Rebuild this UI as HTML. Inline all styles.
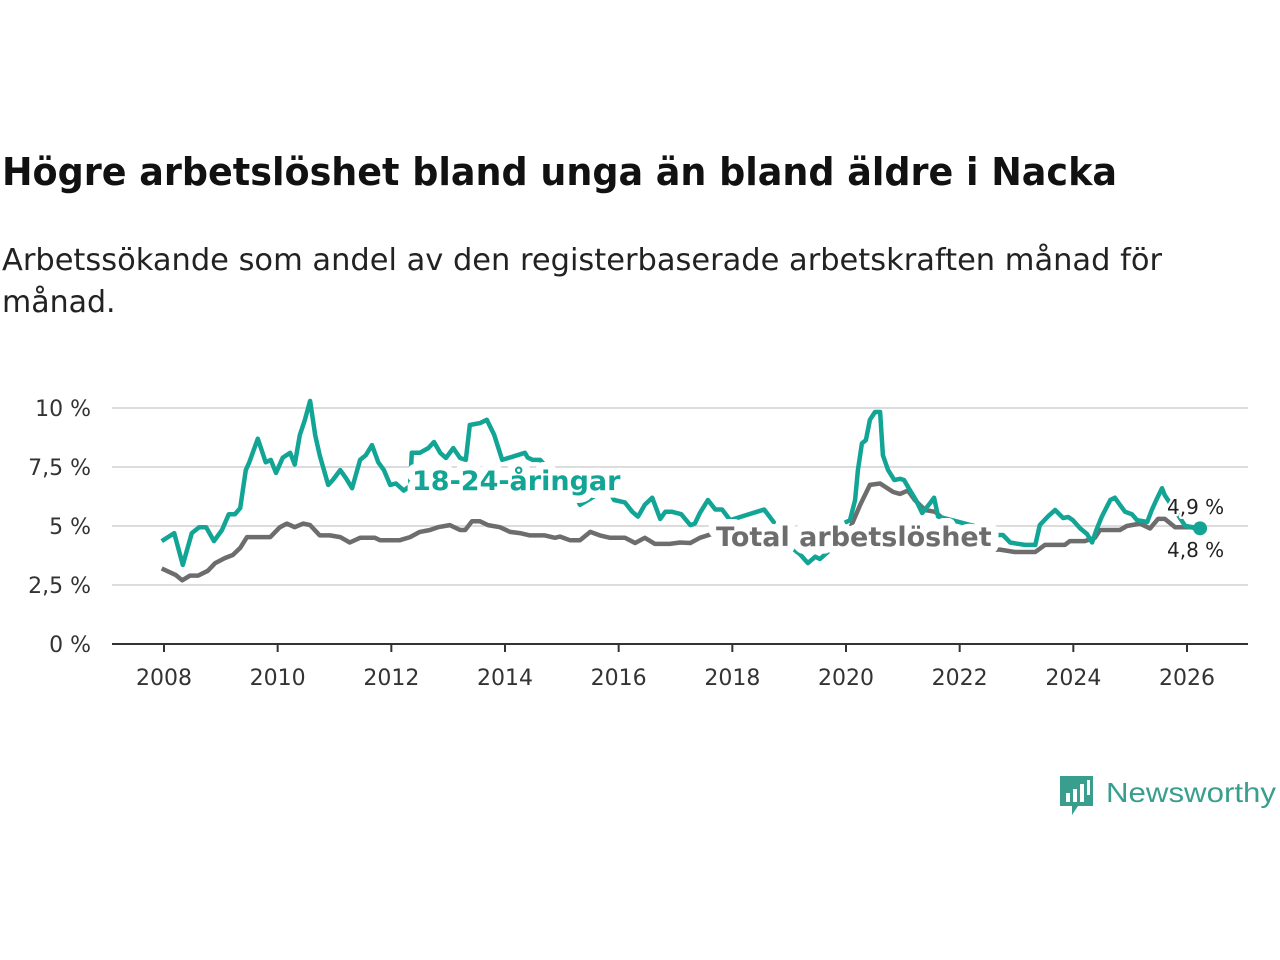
<!DOCTYPE html>
<html><head><meta charset="utf-8"><style>
body{margin:0;background:#fff;}
svg{display:block;font-family:"DejaVu Sans","Liberation Sans",sans-serif;}
</style></head><body>
<svg id="chart" width="1280" height="960" viewBox="0 0 1280 960">
<text x="2" y="185" font-size="38" font-weight="bold" fill="#111" textLength="1115" lengthAdjust="spacingAndGlyphs">Högre arbetslöshet bland unga än bland äldre i Nacka</text>
<text x="2" y="270" font-size="30" fill="#222" textLength="1160" lengthAdjust="spacingAndGlyphs">Arbetssökande som andel av den registerbaserade arbetskraften månad för</text>
<text x="2" y="312" font-size="30" fill="#222">månad.</text>
<g id="grid"></g><g id="axes"></g><g id="lines"></g><g id="labels"></g>
<g>
<path d="M1060 776h33v30h-15l-6 9v-9h-12z" fill="#3a9e8f"/>
<rect x="1066" y="793" width="4" height="9" fill="#fff"/><rect x="1073" y="789" width="4" height="13" fill="#fff"/><rect x="1080" y="784" width="4" height="18" fill="#fff"/><rect x="1087" y="780" width="3" height="15" fill="#fff"/>
<text x="1106" y="802" font-size="28" fill="#3a9e8f" font-family="Liberation Sans, sans-serif" textLength="170" lengthAdjust="spacingAndGlyphs">Newsworthy</text>
</g>
</svg>
<script>
const yTicks=[0,2.5,5,7.5,10];
const yTickLabels=["0 %","2,5 %","5 %","7,5 %","10 %"];
const xTicks=[2008,2010,2012,2014,2016,2018,2020,2022,2024,2026];
const youthDates=[2007.96,2008.18,2008.33,2008.49,2008.62,2008.74,2008.88,2009.02,2009.14,2009.25,2009.34,2009.44,2009.5,2009.65,2009.79,2009.88,2009.97,2010.09,2010.22,2010.3,2010.39,2010.48,2010.57,2010.66,2010.74,2010.89,2010.97,2011.1,2011.2,2011.31,2011.45,2011.55,2011.66,2011.77,2011.87,2011.98,2012.08,2012.22,2012.33,2012.36,2012.5,2012.65,2012.75,2012.86,2012.96,2013.09,2013.21,2013.31,2013.38,2013.56,2013.68,2013.81,2013.95,2014.35,2014.4,2014.49,2014.62,2014.7,2015.28,2015.32,2015.81,2015.92,2016.11,2016.24,2016.34,2016.46,2016.59,2016.73,2016.82,2016.94,2017.1,2017.26,2017.34,2017.43,2017.57,2017.7,2017.82,2017.96,2018.56,2019.1,2019.19,2019.33,2019.46,2019.54,2019.68,2019.9,2020.07,2020.16,2020.21,2020.28,2020.35,2020.42,2020.51,2020.6,2020.65,2020.74,2020.85,2020.95,2021.02,2021.13,2021.23,2021.34,2021.48,2021.55,2021.62,2022.53,2022.66,2022.76,2022.89,2023.01,2023.15,2023.33,2023.41,2023.55,2023.68,2023.82,2023.91,2023.99,2024.12,2024.24,2024.33,2024.4,2024.5,2024.65,2024.73,2024.82,2024.91,2025.03,2025.12,2025.3,2025.38,2025.46,2025.56,2025.61,2025.97,2026.23];
const youthValues=[4.36,4.7,3.35,4.7,4.95,4.95,4.36,4.83,5.5,5.5,5.76,7.37,7.7,8.7,7.7,7.8,7.25,7.9,8.1,7.6,8.85,9.5,10.3,8.85,8.0,6.74,6.95,7.37,7.03,6.6,7.8,8.0,8.43,7.7,7.37,6.74,6.8,6.5,6.7,8.1,8.1,8.3,8.56,8.1,7.88,8.3,7.88,7.8,9.28,9.36,9.5,8.86,7.8,8.1,7.9,7.8,7.8,7.58,6.1,5.9,6.6,6.1,6.0,5.6,5.4,5.9,6.2,5.3,5.6,5.6,5.5,5.04,5.1,5.55,6.1,5.7,5.7,5.25,5.7,3.98,3.8,3.43,3.7,3.6,3.9,5.04,5.25,6.1,7.37,8.5,8.64,9.5,9.83,9.83,8.0,7.37,6.95,7.0,6.95,6.5,6.1,5.55,5.97,6.2,5.4,4.83,4.62,4.62,4.3,4.25,4.2,4.2,5.04,5.4,5.68,5.34,5.38,5.25,4.9,4.66,4.3,4.8,5.4,6.1,6.2,5.9,5.6,5.5,5.25,5.17,5.68,6.1,6.6,6.3,5.0,4.9];
const totalDates=[2007.96,2008.21,2008.32,2008.46,2008.6,2008.77,2008.9,2009.07,2009.21,2009.34,2009.46,2009.69,2009.87,2010.04,2010.16,2010.3,2010.45,2010.57,2010.74,2010.92,2011.1,2011.27,2011.45,2011.71,2011.8,2011.98,2012.15,2012.33,2012.5,2012.68,2012.82,2013.03,2013.21,2013.3,2013.42,2013.56,2013.7,2013.91,2014.09,2014.26,2014.44,2014.7,2014.88,2014.97,2015.14,2015.32,2015.5,2015.67,2015.85,2016.11,2016.29,2016.46,2016.64,2016.9,2017.08,2017.26,2017.43,2017.64,2018.3,2019.0,2019.6,2020.02,2020.25,2020.42,2020.6,2020.83,2020.95,2021.09,2021.21,2021.39,2021.57,2022.31,2022.53,2022.71,2022.97,2023.33,2023.5,2023.73,2023.85,2023.94,2024.2,2024.38,2024.47,2024.82,2024.94,2025.17,2025.35,2025.49,2025.61,2025.79,2026.06,2026.23];
const totalValues=[3.2,2.92,2.7,2.9,2.9,3.1,3.43,3.64,3.77,4.07,4.53,4.53,4.53,4.95,5.1,4.95,5.1,5.04,4.6,4.6,4.53,4.3,4.5,4.5,4.4,4.4,4.4,4.53,4.75,4.83,4.95,5.04,4.83,4.83,5.2,5.2,5.04,4.95,4.75,4.7,4.6,4.6,4.5,4.55,4.4,4.4,4.75,4.6,4.5,4.5,4.28,4.5,4.24,4.24,4.3,4.28,4.5,4.66,4.6,4.5,4.5,4.6,5.9,6.74,6.8,6.44,6.36,6.5,6.1,5.68,5.6,4.0,4.0,4.0,3.9,3.9,4.2,4.2,4.2,4.36,4.36,4.5,4.83,4.83,5.0,5.1,4.9,5.3,5.3,4.95,4.95,4.87];
const NS="http://www.w3.org/2000/svg";
const X=y=>164+(y-2008)*(1187-164)/18;
const Y=v=>644-v*23.6;
function mk(tag,attrs,parent,text){const e=document.createElementNS(NS,tag);for(const k in attrs)e.setAttribute(k,attrs[k]);if(text!==undefined)e.textContent=text;document.getElementById(parent).appendChild(e);return e;}
yTicks.forEach((t,i)=>{
 if(t>0){const g=mk('line',{x1:112,x2:1248,y1:Y(t),y2:Y(t),stroke:'#dcdcdc','stroke-width':2},'grid');
 
 }
 const l=mk('text',{x:91,y:Y(t)+8,'text-anchor':'end','font-size':22,fill:'#333'},'axes',yTickLabels[i]);
 
 
});
const base=mk('line',{x1:112,x2:1248,y1:644,y2:644,stroke:'#333','stroke-width':2},'axes');


xTicks.forEach(t=>{
 const tk=mk('line',{x1:X(t),x2:X(t),y1:644,y2:652,stroke:'#333','stroke-width':2},'axes');
 
 
 const l=mk('text',{x:X(t),y:685,'text-anchor':'middle','font-size':22,fill:'#333'},'axes',String(t));
 
 
});
function pathOf(d,v){return d.map((x,i)=>(i?'L':'M')+X(x).toFixed(1)+' '+Y(v[i]).toFixed(1)).join('');}
const tp=mk('path',{d:pathOf(totalDates,totalValues),fill:'none',stroke:'#6d6d6d','stroke-width':4.5,'stroke-linejoin':'round'},'lines');


const yp=mk('path',{d:pathOf(youthDates,youthValues),fill:'none',stroke:'#12a595','stroke-width':4.5,'stroke-linejoin':'round'},'lines');


const ld=youthDates[youthDates.length-1];
const dot=mk('circle',{cx:X(ld),cy:Y(youthValues[youthValues.length-1]),r:7,fill:'#12a595'},'lines');


const halo={stroke:'#fff','stroke-width':15,'paint-order':'stroke','stroke-linejoin':'round'};
const l1=mk('text',Object.assign({x:412,y:490,'font-size':27,'font-weight':'bold',fill:'#12a595'},halo),'labels','18-24-åringar');


const l2=mk('text',Object.assign({x:716,y:546,'font-size':27,'font-weight':'bold',fill:'#6d6d6d'},halo),'labels','Total arbetslöshet');


const v1=mk('text',Object.assign({x:1167,y:514,'font-size':20,fill:'#222'},halo,{'stroke-width':5}),'labels','4,9 %');


const v2=mk('text',Object.assign({x:1167,y:557,'font-size':20,fill:'#222'},halo,{'stroke-width':5}),'labels','4,8 %');


</script>
</body></html>
